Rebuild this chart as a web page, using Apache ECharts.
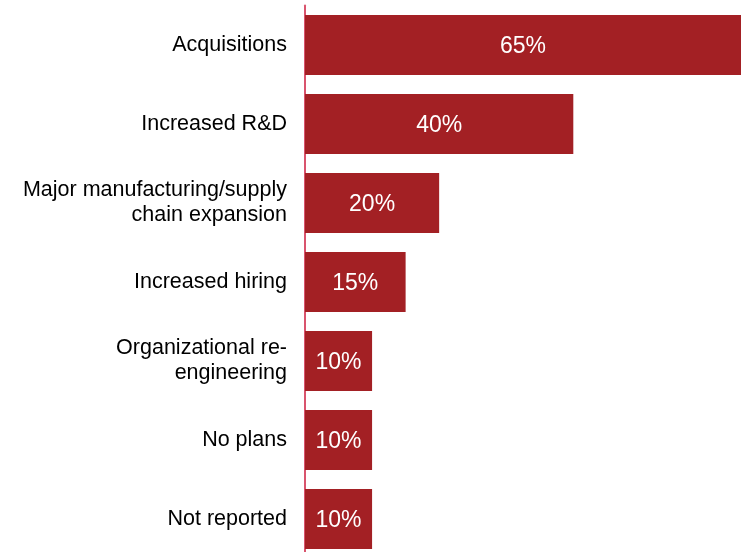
<!DOCTYPE html>
<html>
<head>
<meta charset="utf-8">
<script src="https://cdn.jsdelivr.net/npm/echarts@6/dist/echarts.min.js"></script>
<style>
  html, body { margin: 0; padding: 0; background: #ffffff; }
  #chart { width: 741px; height: 552px; }
</style>
</head>
<body>
<div id="chart"></div>
<script>
// Planned uses of capital, share of respondents (%)
const categories = [
  'Acquisitions',
  'Increased R&D',
  'Major manufacturing/supply\nchain expansion',
  'Increased hiring',
  'Organizational re-\nengineering',
  'No plans',
  'Not reported'
];
const shares = [65, 40, 20, 15, 10, 10, 10];

const chart = echarts.init(document.getElementById('chart'));
chart.setOption({
  animation: false,
  backgroundColor: '#ffffff',
  grid: {
    left: 305, right: 0, top: 5.5, height: 553,
    containLabel: false,
    outerBoundsMode: 'none'
  },
  xAxis: {
    type: 'value',
    min: 0,
    max: 65,
    show: false
  },
  yAxis: {
    type: 'category',
    data: categories,
    inverse: true,
    axisLine: { show: true, lineStyle: { color: '#d9546d', width: 2 } },
    axisTick: { show: false },
    splitLine: { show: false },
    axisLabel: {
      color: '#000000',
      fontFamily: 'Liberation Sans, Arial, sans-serif',
      fontSize: 21.5,
      lineHeight: 25,
      align: 'right',
      margin: 18,
      padding: [4, 0, 0, 0]
    }
  },
  series: [{
    type: 'bar',
    data: shares,
    barCategoryGap: '24%',
    itemStyle: { color: '#a32024' },
    label: {
      show: true,
      position: 'inside',
      formatter: '{c}%',
      color: '#ffffff',
      fontFamily: 'Liberation Sans, Arial, sans-serif',
      fontSize: 23,
      offset: [0, 2]
    }
  }]
});
</script>
</body>
</html>
